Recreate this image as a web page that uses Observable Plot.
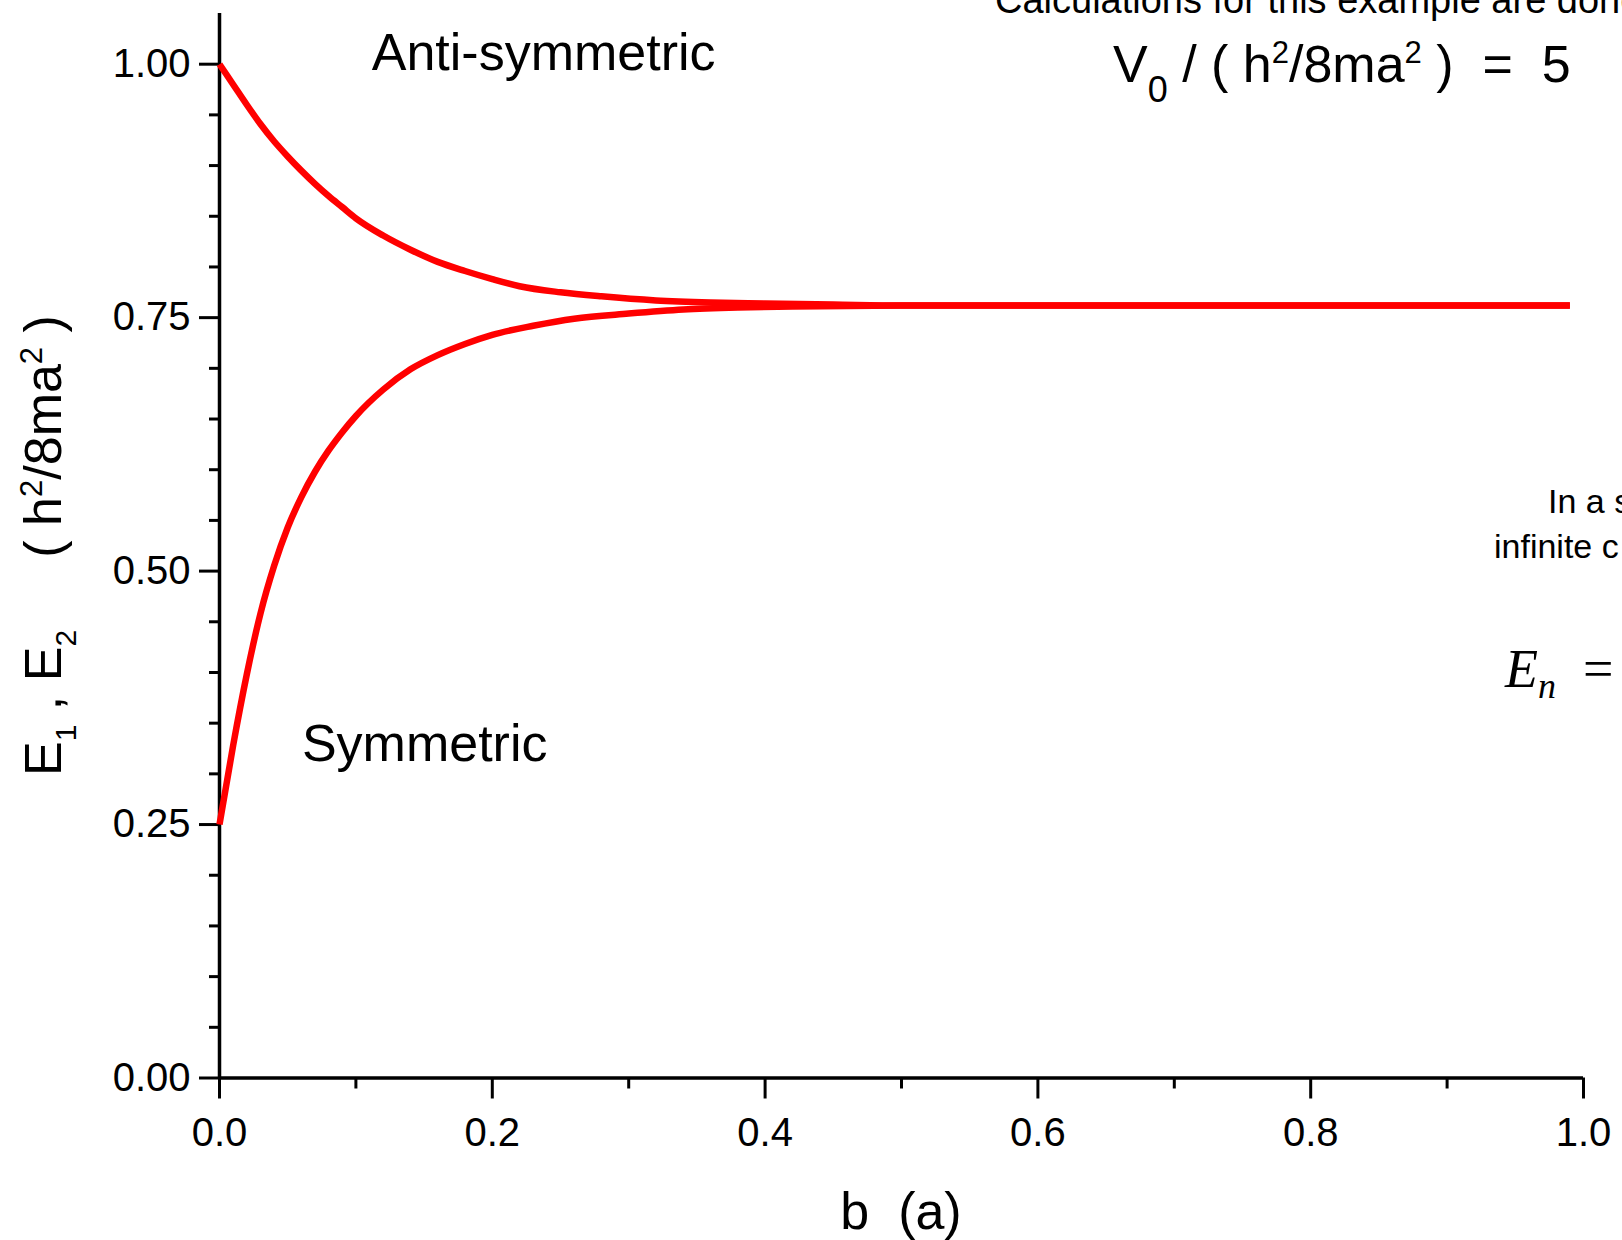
<!DOCTYPE html>
<html><head><meta charset="utf-8">
<script src="https://cdn.jsdelivr.net/npm/d3@7"></script>
<script src="https://cdn.jsdelivr.net/npm/@observablehq/plot@0.6"></script>
<style>html,body{margin:0;padding:0;background:#fff;overflow:hidden}</style>
</head><body><div id="chart"></div>
<script>
// b (in units of a) and energies (in units of h^2/8ma^2)
const bAnti = [0, 0.01, 0.02, 0.03, 0.04, 0.05, 0.06, 0.07, 0.08, 0.09, 0.10, 0.12, 0.14, 0.16, 0.18, 0.20, 0.22, 0.25, 0.28, 0.32, 0.36, 0.40, 0.45, 0.50, 0.60, 0.70, 0.80, 0.90, 0.99];
const eAnti = [1.000, 0.980, 0.960, 0.941, 0.924, 0.909, 0.895, 0.882, 0.870, 0.859, 0.848, 0.831, 0.817, 0.805, 0.796, 0.788, 0.781, 0.775, 0.771, 0.767, 0.765, 0.764, 0.763, 0.762, 0.762, 0.762, 0.762, 0.762, 0.762];
const bSym = [0, 0.01, 0.02, 0.03, 0.04, 0.05, 0.06, 0.07, 0.08, 0.09, 0.10, 0.12, 0.14, 0.16, 0.18, 0.20, 0.23, 0.26, 0.30, 0.34, 0.38, 0.42, 0.50, 0.60, 0.70, 0.80, 0.90, 0.99];
const eSym = [0.250, 0.328, 0.398, 0.458, 0.505, 0.543, 0.573, 0.598, 0.619, 0.637, 0.653, 0.679, 0.699, 0.713, 0.724, 0.733, 0.742, 0.749, 0.754, 0.758, 0.760, 0.761, 0.762, 0.762, 0.762, 0.762, 0.762, 0.762];

const yMajorTicks = [0, 0.25, 0.5, 0.75, 1.0];
const yMinorTicks = [0.05, 0.10, 0.15, 0.20, 0.30, 0.35, 0.40, 0.45, 0.55, 0.60, 0.65, 0.70, 0.80, 0.85, 0.90, 0.95];
const xMajorTicks = [0, 0.2, 0.4, 0.6, 0.8, 1.0];
const xMinorTicks = [0.1, 0.3, 0.5, 0.7, 0.9];

const anti = bAnti.map((b, i) => ({b, e: eAnti[i]}));
const sym = bSym.map((b, i) => ({b, e: eSym[i]}));

const FONT = "'Liberation Sans', Arial, Helvetica, sans-serif";

const svg = Plot.plot({
  width: 1622, height: 1240,
  marginLeft: 219, marginRight: 39, marginTop: 13, marginBottom: 162.5,
  style: {fontFamily: FONT, background: "white", color: "black", overflow: "hidden"},
  x: {domain: [0, 1]},
  y: {domain: [0, 1.05]},
  marks: [
    Plot.axisY(yMinorTicks, {tickSize: 10, strokeWidth: 3, tickFormat: () => "", label: null}),
    Plot.axisY(yMajorTicks, {tickSize: 20, tickPadding: 9, strokeWidth: 3, tickFormat: d3.format(".2f"), fontSize: 40, label: null}),
    Plot.axisX(xMinorTicks, {tickSize: 11, strokeWidth: 3, tickFormat: () => "", label: null}),
    Plot.axisX(xMajorTicks, {tickSize: 21, tickPadding: 19, strokeWidth: 3, tickFormat: d3.format(".1f"), fontSize: 40, label: null}),
    Plot.ruleX([0], {y1: 0, y2: 1.05, strokeWidth: 3.5}),
    Plot.ruleY([0], {x1: 0, x2: 1, strokeWidth: 3.5}),
    Plot.line(anti, {x: "b", y: "e", stroke: "#ff0000", strokeWidth: 6.5, curve: "monotone-x", strokeLinecap: "butt"}),
    Plot.line(sym, {x: "b", y: "e", stroke: "#ff0000", strokeWidth: 6.5, curve: "monotone-x", strokeLinecap: "butt"})
  ]
});
document.getElementById("chart").appendChild(svg);

const X = svg.scale("x"), Y = svg.scale("y");
const root = d3.select(svg);

function rich(x, y, size, parts, opts = {}) {
  const t = root.append("text")
    .attr("x", x).attr("y", y)
    .attr("font-size", size)
    .attr("font-family", opts.family || FONT)
    .attr("fill", "black")
    .attr("text-anchor", opts.anchor || "start")
    .style("white-space", "pre")
    .attr("xml:space", "preserve");
  if (opts.transform) t.attr("transform", opts.transform);
  let prev = 0;
  for (const p of parts) {
    const off = p.shift || 0;
    const s = t.append("tspan").text(p.t).attr("dy", off - prev);
    if (p.size) s.attr("font-size", p.size);
    if (p.italic) s.attr("font-style", "italic");
    prev = off;
  }
  return t;
}

// In-plot labels, positioned through the scales
rich(X.apply(0.112), Y.apply(0.9938), 52, [{t: "Anti-symmetric"}]);
rich(X.apply(0.0608), Y.apply(0.3122), 52, [{t: "Symmetric"}]);

// Axis titles
rich(901, 1229, 52, [{t: "b  (a)"}], {anchor: "middle"});
rich(0, 0, 52, [
  {t: "E"}, {t: "1", size: 30, shift: 15}, {t: " , E"}, {t: "2", size: 30, shift: 15},
  {t: "     ( h"}, {t: "2", size: 31, shift: -19}, {t: "/8ma"}, {t: "2", size: 31, shift: -19}, {t: " )"}
], {transform: "translate(61,776) rotate(-90)"});

// Text from the surrounding figure (cut at the edges, as in the original)
rich(995, 13, 38, [{t: "Calculations for this example are done"}]);
rich(1113, 82, 52, [
  {t: "V"}, {t: "0", size: 36, shift: 20}, {t: " / ( h"}, {t: "2", size: 31, shift: -19},
  {t: "/8ma"}, {t: "2", size: 31, shift: -19}, {t: " )  =  5"}
]);
rich(1548, 513, 34, [{t: "In a s"}]);
rich(1494, 558, 34, [{t: "infinite c"}]);
rich(1505, 687, 54, [
  {t: "E", italic: true}, {t: "n", italic: true, size: 36, shift: 11}, {t: "  ="}
], {family: "'Liberation Serif', 'Times New Roman', serif"});
</script>
</body></html>
